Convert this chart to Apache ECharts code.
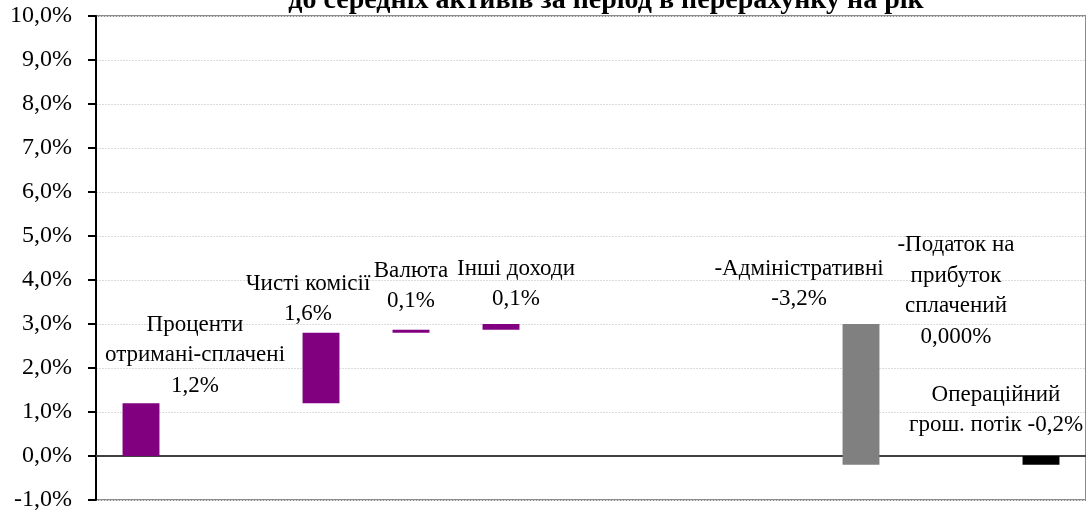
<!DOCTYPE html>
<html>
<head>
<meta charset="utf-8">
<script src="https://cdn.jsdelivr.net/npm/echarts@6/dist/echarts.min.js"></script>
<style>
  html, body { margin: 0; padding: 0; background: #fff; }
  #chart { width: 1086px; height: 516px; }
</style>
</head>
<body>
<div id="chart"></div>
<script>
  // категорії (порожні - проміжні позиції без даних)
  var categories = ['Проценти', 'c2', 'Чисті комісії', 'Валюта', 'Інші доходи', 'c6', 'c7', 'c8',
    '-Адміністративні', '-Податок', 'Операційний'];
  // зміна за статтею, % до середніх активів
  var changes = [1.2, 0, 1.6, 0.07, 0.13, 0, 0, 0, -3.2, 0, -0.2];
  // чи є стовпчик підсумковим (від нуля)
  var isTotal = [false, false, false, false, false, false, false, false, false, false, true];
  var hasBar = [true, false, true, true, true, false, false, false, true, true, true];
  var labelTexts = ['Проценти\nотримані-сплачені\n1,2%', '', 'Чисті комісії\n1,6%', 'Валюта\n0,1%',
    'Інші доходи\n0,1%', '', '', '', '-Адміністративні\n-3,2%',
    '-Податок на\nприбуток\nсплачений\n0,000%', 'Операційний\nгрош. потік -0,2%'];
  var yTicks = { min: -1, max: 10, interval: 1 };
  var titleText = 'до середніх активів за період в перерахунку на рік';

  var barColors = ['#800080', '#800080', '#800080', '#800080', '#800080', '#800080', '#800080', '#800080',
    '#808080', '#808080', '#000000'];
  // зсув підпису від верху стовпчика, px
  var labelOffsets = [[54, -48], [0, 0], [-13, -34], [0, -44], [15, -40], [0, 0], [0, 0], [0, 0],
    [-62, -40], [5, -174], [-45, -46]];

  // будуємо каскад: [індекс, початок, кінець]
  var waterfall = [];
  var run = 0;
  for (var i = 0; i < changes.length; i++) {
    var start, end;
    if (isTotal[i]) { start = 0; end = changes[i]; run = end; }
    else { start = run; end = run + changes[i]; run = end; }
    waterfall.push([i, start, end]);
  }

  var myChart = echarts.init(document.getElementById('chart'));

  var option = {
    animation: false,
    grid: {
      left: 96, right: 0, top: 16, bottom: 16,
      show: true,
      borderColor: '#8c8c8c',
      borderWidth: 2
    },
    graphic: [{
      type: 'text',
      x: 606, y: 1,
      style: {
        text: titleText,
        align: 'center',
        verticalAlign: 'middle',
        fontFamily: 'Liberation Serif',
        fontWeight: 'bold',
        fontSize: 28,
        fill: '#000'
      }
    }],
    xAxis: {
      type: 'category',
      data: categories,
      axisLine: { show: true, onZero: true, lineStyle: { color: '#404040', width: 2 } },
      axisTick: { show: false },
      axisLabel: { show: false },
      splitLine: { show: false }
    },
    yAxis: {
      type: 'value',
      min: yTicks.min,
      max: yTicks.max,
      interval: yTicks.interval,
      axisLine: { show: true, onZero: false, lineStyle: { color: '#000', width: 2 } },
      axisTick: { show: true, length: 8, lineStyle: { color: '#000', width: 2 } },
      axisLabel: {
        margin: 24,
        color: '#000',
        fontFamily: 'Liberation Serif',
        fontSize: 24,
        formatter: function (v) { return v.toFixed(1).replace('.', ',') + '%'; }
      },
      splitLine: { show: true, lineStyle: { color: '#dcdcdc', width: 1, type: [2, 1] } }
    },
    series: [{
      type: 'custom',
      data: waterfall,
      renderItem: function (params, api) {
        var idx = api.value(0);
        var a = api.value(1), b = api.value(2);
        var top = api.coord([idx, Math.max(a, b)]);
        var bottom = api.coord([idx, Math.min(a, b)]);
        var w = api.size([1, 0])[0] * 0.41;
        var children = [];
        if (hasBar[idx]) {
          children.push({
            type: 'rect',
            shape: { x: top[0] - w / 2, y: top[1], width: w, height: bottom[1] - top[1] },
            style: { fill: barColors[idx] }
          });
        }
        if (labelTexts[idx]) {
          children.push({
            type: 'text',
            x: top[0] + labelOffsets[idx][0],
            y: top[1] + labelOffsets[idx][1],
            style: {
              text: labelTexts[idx],
              align: 'center',
              verticalAlign: 'middle',
              fontFamily: 'Liberation Serif',
              fontSize: 23,
              lineHeight: 30.5,
              fill: '#000'
            }
          });
        }
        return { type: 'group', children: children };
      }
    }]
  };

  myChart.setOption(option);
</script>
</body>
</html>
